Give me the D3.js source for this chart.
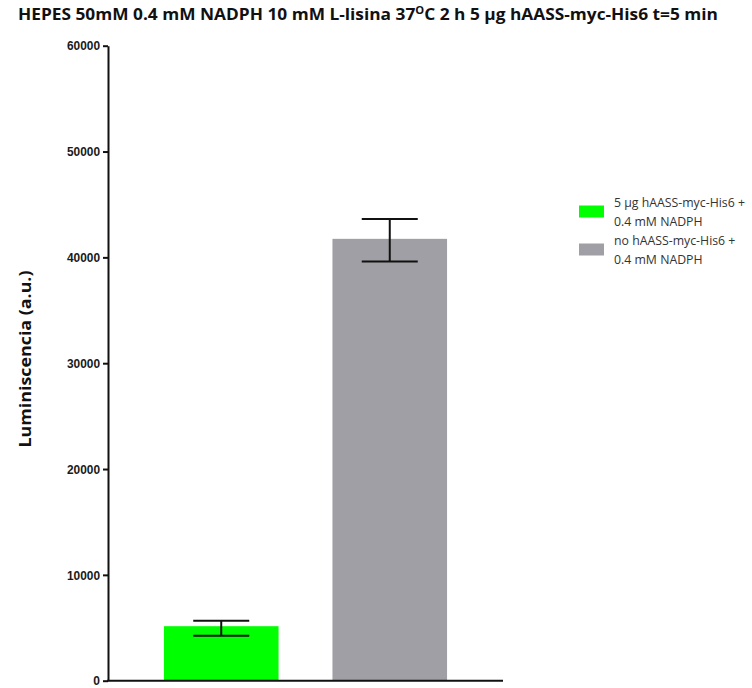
<!DOCTYPE html>
<html>
<head>
<meta charset="utf-8">
<script src="https://cdn.jsdelivr.net/npm/d3@7"></script>
<style>
  html, body { margin: 0; padding: 0; background: #fff; }
  svg { display: block; }
</style>
</head>
<body>
<script>
// Luminescence per condition (mean with lower/upper error bounds)
const categories = ["5 µg hAASS-myc-His6 + 0.4 mM NADPH", "no hAASS-myc-His6 + 0.4 mM NADPH"];
const means = [5150, 41750];
const lowerBounds = [4250, 39600];
const upperBounds = [5670, 43630];
const barColors = ["#00ff00", "#a09fa5"];
const legendLines = [
  ["5 μg hAASS-myc-His6 +", "0.4 mM NADPH"],
  ["no hAASS-myc-His6 +", "0.4 mM NADPH"]
];
const yTicks = [0, 10000, 20000, 30000, 40000, 50000, 60000];

const W = 752, H = 688;
const svg = d3.select("body").append("svg").attr("width", W).attr("height", H);

const x0 = 108, x1 = 503, yTop = 45.7, yBase = 680.7;

const x = d3.scaleBand().domain(categories).range([x0, x1])
  .paddingInner(0.32).paddingOuter(0.332);
const y = d3.scaleLinear().domain([0, 60000]).range([yBase, yTop]);

// Title
const title = svg.append("text")
  .attr("x", 18).attr("y", 20)
  .attr("font-family", "'Open Sans', sans-serif")
  .attr("font-weight", "bold").attr("font-size", 15.5)
  .attr("fill", "#111")
  .attr("textLength", 700).attr("lengthAdjust", "spacingAndGlyphs");
title.append("tspan").text("HEPES 50mM 0.4 mM NADPH 10 mM L-lisina 37");
title.append("tspan").attr("font-size", 10).attr("dy", -6).text("O");
title.append("tspan").attr("dy", 6).text("C 2 h 5 μg hAASS-myc-His6 t=5 min");

// Bars
svg.append("g").selectAll("rect").data(categories).join("rect")
  .attr("x", d => x(d))
  .attr("width", x.bandwidth())
  .attr("y", (d, i) => y(means[i]))
  .attr("height", (d, i) => y(0) - y(means[i]))
  .attr("fill", (d, i) => barColors[i]);

// Error bars
const capW = 56;
const eb = svg.append("g").attr("stroke", "#111").attr("stroke-width", 2).attr("fill", "none");
categories.forEach((c, i) => {
  const cx = x(c) + x.bandwidth() / 2;
  eb.append("line").attr("x1", cx).attr("x2", cx)
    .attr("y1", y(upperBounds[i])).attr("y2", y(lowerBounds[i]));
  [upperBounds[i], lowerBounds[i]].forEach(v => {
    eb.append("line").attr("x1", cx - capW / 2).attr("x2", cx + capW / 2)
      .attr("y1", y(v)).attr("y2", y(v));
  });
});

// Y axis
const yAxis = svg.append("g").attr("transform", `translate(${x0},0)`)
  .call(d3.axisLeft(y).tickValues(yTicks).tickSize(5).tickSizeOuter(0).tickFormat(d3.format("d")));
yAxis.select(".domain").attr("stroke", "#111").attr("stroke-width", 2);
yAxis.selectAll(".tick line").attr("stroke", "#111").attr("stroke-width", 2);
yAxis.selectAll(".tick text")
  .attr("x", -8)
  .attr("font-family", "'Liberation Sans', Arial, sans-serif")
  .attr("font-size", 12).attr("fill", "#1a1a1a")
  .attr("font-weight", "bold")
  .attr("dy", "0.35em")
  .each(function (d) { if (d !== 0) d3.select(this).attr("textLength", 33).attr("lengthAdjust", "spacingAndGlyphs"); });

// X axis baseline
svg.append("line").attr("x1", x0 - 1).attr("x2", x1)
  .attr("y1", yBase).attr("y2", yBase)
  .attr("stroke", "#111").attr("stroke-width", 2);

// Y axis label
svg.append("text")
  .attr("transform", "translate(31,359) rotate(-90)")
  .attr("text-anchor", "middle")
  .attr("font-family", "'Open Sans', sans-serif")
  .attr("font-weight", "bold").attr("font-size", 16.5)
  .attr("fill", "#111")
  .attr("textLength", 177).attr("lengthAdjust", "spacingAndGlyphs")
  .text("Luminiscencia (a.u.)");

// Legend
const legend = svg.append("g");
legendLines.forEach((lines, i) => {
  const gy = 199 + i * 38;
  legend.append("rect").attr("x", 579).attr("y", gy + 6.5)
    .attr("width", 25).attr("height", 12).attr("fill", barColors[i]);
  lines.forEach((t, j) => {
    legend.append("text").attr("x", 614).attr("y", gy + 8.3 + j * 19)
      .attr("font-family", "'Open Sans', sans-serif")
      .attr("font-size", 12.3).attr("fill", "#333")
      .text(t);
  });
});
</script>
</body>
</html>
